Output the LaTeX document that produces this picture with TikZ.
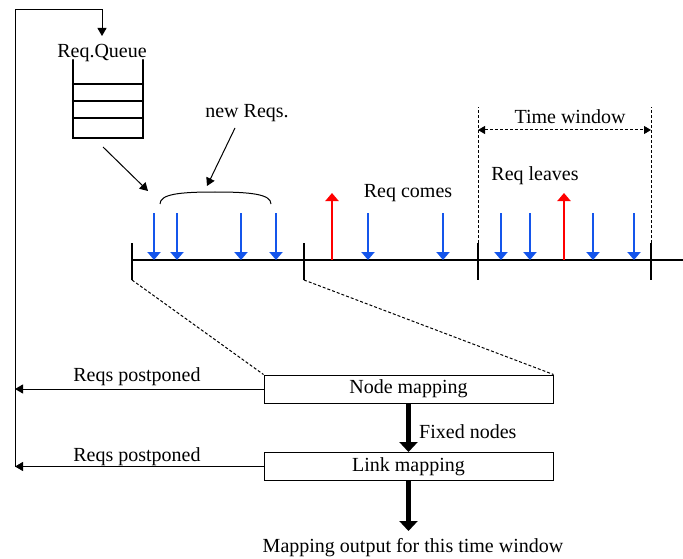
\documentclass[tikz,border=0pt]{standalone}
\usepackage{fontspec}
\setmainfont{Liberation Serif}
\usetikzlibrary{arrows.meta}
\definecolor{reqblue}{RGB}{20,85,235}
\definecolor{reqred}{RGB}{255,0,0}
\begin{document}
\begin{tikzpicture}[x=1pt,y=-1pt,
  txt/.style={font=\fontsize{20}{24}\selectfont, inner sep=0pt, anchor=base},
  thinline/.style={line width=1pt, draw=black},
  smallarrow/.style={thinline, -{Triangle[width=9pt,length=8pt]}},
  boxnode/.style={draw, line width=1pt, minimum width=289pt, minimum height=28pt, inner sep=0pt, font=\fontsize{20}{24}\selectfont},
  queueline/.style={line width=2.2pt, line cap=round},
  axisline/.style={line width=2.5pt},
  bluearrow/.style={line width=2.5pt, draw=reqblue, -{Triangle[width=13pt,length=8pt]}},
  redarrow/.style={line width=2.5pt, draw=reqred, -{Triangle[width=13pt,length=8pt]}},
  bigarrow/.style={line width=5pt, -{Triangle[width=18pt,length=10pt]}},
  dashline/.style={line width=1pt, dash pattern=on 3pt off 2pt},
]
\useasboundingbox (0,0) rectangle (683,559);

% ---- texts ----
\node[txt] (rq) at (102,58) {Req.Queue};
\node[txt] (nr) at (247,118) {new Reqs.};
\node[txt] (tw) at (570,124) {Time window};
\node[txt] (rc) at (408,197) {Req comes};
\node[txt] (rl) at (535,181) {Req leaves};
\node[txt] (rp1) at (137,381) {Reqs postponed};
\node[txt] (rp2) at (137,461) {Reqs postponed};
\node[txt, anchor=base west] (fn) at (419,438) {Fixed nodes};
\node[txt] (mo) at (413,552) {Mapping output for this time window};

% ---- boxes ----
\node[boxnode] (nm) at (408.5,389) {Node mapping};
\node[boxnode] (lm) at (408.5,466.5) {Link mapping};

% ---- feedback loop ----
\coordinate (fbB) at (15,467);
\coordinate (fbT) at (15,10);
\coordinate (fbR) at (102,10);
\coordinate (qin) at (102,36);
\draw[smallarrow] (fbB) -- (fbT) -- (fbR) -- (qin);
\draw[smallarrow] (nm.west) -- (nm.west -| fbB);
\draw[smallarrow] (lm.west) -- (lm.west -| fbB);

% ---- queue ----
\draw[queueline] (73,60) -- (73,138) -- (143,138) -- (143,60);
\foreach \yy in {84,101,118} \draw[queueline] (73,\yy) -- (143,\yy);

\coordinate (qout) at (103,147);
\coordinate (qtip) at (148,191);
\draw[smallarrow] (qout) -- (qtip);

% ---- brace and new reqs arrow ----
\coordinate (brL) at (160,204);
\coordinate (brR) at (271,204);
\coordinate (brT) at (215,192);
\draw[line width=1pt] (brL) .. controls (160,194) and (180,192) .. (brT) .. controls (250,192) and (271,194) .. (brR);
\coordinate (nrA) at (235,128);
\coordinate (nrB) at (207,186);
\draw[smallarrow] (nrA) -- (nrB);

% ---- timeline ----
\coordinate (axL) at (131,260);
\coordinate (axR) at (683,260);
\draw[axisline] (axL) -- (axR);
\foreach \xx/\nm in {132/t1,304/t2,478/t3,651/t4}{
  \coordinate (\nm top) at (\xx,243);
  \coordinate (\nm bot) at (\xx,280);
  \draw[axisline] (\nm top) -- (\nm bot);
}
\foreach \xx in {154,177,241,276,368,443,501,530,593,634}
  \draw[bluearrow] (\xx,213) -- (\xx,260);
\foreach \xx in {332,564}
  \draw[redarrow] (\xx,260) -- (\xx,193);

% ---- time window ----
\coordinate (tw3) at (478,107);
\coordinate (tw4) at (651,107);
\draw[dashline] (t3top) -- (tw3);
\draw[dashline] (t4top) -- (tw4);
\coordinate (twL) at (478,130);
\coordinate (twR) at (651,130);
\draw[dashline, {Triangle[width=8pt,length=7pt]}-{Triangle[width=8pt,length=7pt]}] (twL) -- (twR);

% ---- zoom lines ----
\draw[dashline] (t1bot) -- (nm.north west);
\draw[dashline] (t2bot) -- (nm.north east);

% ---- mapping flow ----
\draw[bigarrow] (nm.south) -- (lm.north);
\coordinate (outTip) at (408.5,531);
\draw[bigarrow] (lm.south) -- (outTip);
\end{tikzpicture}
\end{document}
